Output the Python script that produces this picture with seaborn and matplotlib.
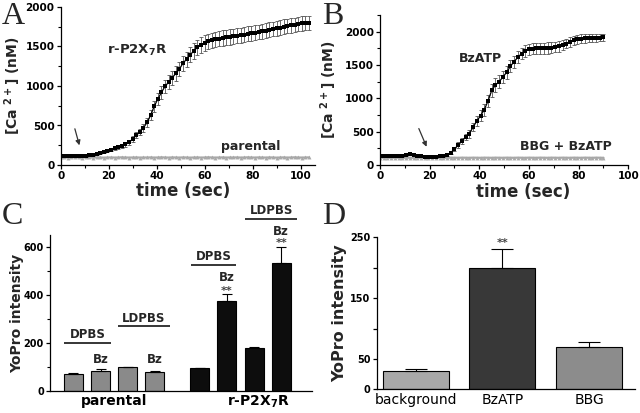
import numpy as np
import pandas as pd
import matplotlib
matplotlib.use("Agg")
import matplotlib.pyplot as plt
import seaborn as sns
from matplotlib.ticker import MultipleLocator

# ---------------- data ----------------
# Panel A: r-P2X7R cells, [Ca2+] (nM) sampled every 1.5 s
dt_A = 1.5
a_ratio = [120, 120, 119, 120, 119, 118, 118, 119, 122, 132,
           145, 158, 170, 183, 196, 210, 225, 242, 262, 285,
           330, 375, 420, 470, 540, 630, 745, 835, 920, 995,
           1050, 1105, 1160, 1215, 1290, 1340, 1395, 1445, 1490, 1520,
           1545, 1565, 1580, 1590, 1600, 1607, 1614, 1620, 1627, 1634,
           1641, 1650, 1660, 1668, 1676, 1684, 1692, 1700, 1710, 1720,
           1730, 1740, 1750, 1760, 1768, 1776, 1784, 1792, 1797, 1800]
a_err = [12, 12, 12, 12, 12, 12, 12, 12, 14, 15,
         17, 18, 20, 22, 24, 25, 27, 28, 30, 32,
         35, 38, 42, 48, 55, 62, 70, 78, 82, 85,
         88, 90, 92, 94, 95, 96, 96, 97, 97, 97,
         97, 97, 97, 97, 97, 96, 96, 96, 96, 95,
         95, 95, 95, 95, 95, 94, 94, 94, 94, 93,
         93, 92, 92, 92, 91, 91, 90, 90, 90, 90]
a_parental = [95, 96, 94, 95, 97, 95, 94, 96, 95, 94,
              96, 95, 93, 95, 96, 94, 95, 97, 95, 94,
              95, 96, 94, 95, 95, 96, 94, 95, 97, 95,
              94, 96, 95, 94, 96, 95, 93, 95, 96, 94,
              95, 97, 95, 94, 95, 96, 94, 95, 95, 96,
              94, 95, 97, 95, 94, 96, 95, 94, 96, 95,
              93, 95, 96, 94, 95, 97, 95, 94, 95, 96]

# Panel B: BzATP vs BBG + BzATP
dt_B = 1.5
b_bz = [130, 128, 130, 128, 130, 128, 132, 145, 160, 150,
        135, 128, 125, 122, 122, 124, 128, 135, 150, 185,
        240, 300, 360, 420, 470, 570, 660, 740, 830, 960,
        1120, 1200, 1250, 1320, 1390, 1480, 1550, 1615, 1670, 1710,
        1735, 1745, 1748, 1750, 1752, 1755, 1760, 1768, 1780, 1800,
        1822, 1845, 1868, 1885, 1895, 1900, 1903, 1906, 1909, 1912, 1915]
b_err = [14, 14, 14, 14, 14, 14, 15, 16, 16, 16,
         15, 14, 14, 14, 14, 14, 15, 16, 18, 22,
         30, 38, 45, 52, 58, 65, 72, 80, 88, 95,
         100, 100, 98, 96, 94, 92, 90, 88, 86, 85,
         84, 84, 84, 84, 84, 83, 82, 80, 78, 76,
         74, 72, 70, 68, 66, 64, 62, 60, 58, 57, 56]
b_bbg = [108, 110, 109, 108, 110, 109, 108, 110, 109, 108,
         110, 109, 108, 110, 109, 108, 110, 109, 108, 110,
         109, 108, 110, 109, 108, 110, 109, 108, 110, 109,
         108, 110, 109, 108, 110, 109, 108, 110, 109, 108,
         110, 109, 108, 110, 109, 108, 110, 109, 108, 110,
         109, 108, 110, 109, 108, 110, 109, 108, 110, 109, 108]

# Panel C: YoPro intensity
c_group = ["parental"] * 4 + ["r-P2X7R"] * 4
c_vals = [71, 85, 98, 81, 95, 377, 179, 532]
c_err = [4, 7, 2, 3, 2, 28, 3, 68]
c_group_labels = ["parental", r"r-P2X$_7$R"]

# Panel D
d_labels = ["background", "BzATP", "BBG"]
d_vals = [30, 199, 70]
d_err = [3, 31, 8]

# ---------------- style ----------------
sns.set_theme(style="ticks")
plt.rcParams.update({
    "font.family": ["DejaVu Sans"],
    "font.weight": "bold",
    "axes.labelweight": "bold",
    "mathtext.fontset": "custom",
    "mathtext.rm": "DejaVu Sans:bold",
    "mathtext.it": "DejaVu Sans:bold",
    "mathtext.bf": "DejaVu Sans:bold",
    "mathtext.default": "rm",
    "axes.linewidth": 0.9,
    "axes.edgecolor": "black",
    "xtick.color": "black",
    "ytick.color": "black",
    "xtick.major.size": 3.0,
    "ytick.major.size": 3.0,
    "xtick.minor.size": 2.0,
    "ytick.minor.size": 2.0,
    "xtick.major.width": 0.9,
    "ytick.major.width": 0.9,
    "xtick.minor.width": 0.8,
    "ytick.minor.width": 0.8,
})

fig = plt.figure(figsize=(6.4, 4.13), dpi=100)
W, H = 640.0, 413.0
axA = fig.add_axes([60.7 / W, 1 - 165 / H, (315 - 60.7) / W, 158 / H])
axB = fig.add_axes([380 / W, 1 - 165 / H, 248.3 / W, 150 / H])
axC = fig.add_axes([50 / W, 1 - 391 / H, 261.7 / W, 156 / H])
axD = fig.add_axes([376.7 / W, 1 - 389.3 / H, 258.3 / W, 152 / H])


def draw_trace(ax, dt, mean, err, ctl):
    t = np.arange(len(mean)) * dt
    tc = np.arange(len(ctl)) * dt
    sns.lineplot(x=tc, y=ctl, ax=ax, color="#a8a8a8", marker="^",
                 markersize=2.8, markeredgewidth=0, linewidth=1.6, zorder=2)
    ax.errorbar(t, mean, yerr=err, fmt="none", ecolor="#555555",
                elinewidth=0.6, capsize=1.4, capthick=0.6, zorder=3)
    sns.lineplot(x=t, y=mean, ax=ax, color="black", marker="s",
                 markersize=2.8, markeredgewidth=0, linewidth=0.9, zorder=4)


def style_trace_axis(ax, xmax, ymax):
    sns.despine(ax=ax)
    ax.set_xlim(0, xmax)
    ax.set_ylim(0, ymax)
    ax.xaxis.set_major_locator(MultipleLocator(20))
    ax.xaxis.set_minor_locator(MultipleLocator(10))
    ax.yaxis.set_major_locator(MultipleLocator(500))
    ax.yaxis.set_minor_locator(MultipleLocator(250))
    ax.tick_params(which="both", direction="out", labelsize=7.5, pad=1.5,
                   bottom=True, left=True)
    ax.set_xlabel("time (sec)", fontsize=12, fontweight="bold")
    ax.set_ylabel(r"[Ca $^{2+}$] (nM)", fontsize=10, fontweight="bold")
    for lab in ax.get_xticklabels() + ax.get_yticklabels():
        lab.set_fontweight("bold")


# Panel A
draw_trace(axA, dt_A, a_ratio, a_err, a_parental)
style_trace_axis(axA, 106, 2000)
axA.xaxis.set_label_coords(0.48, -0.11)
axA.yaxis.set_label_coords(-0.15, 0.5)
axA.text(32, 1450, r"r-P2X$_7$R", fontsize=9.5, fontweight="bold",
         ha="center", va="center")
axA.text(79, 230, "parental", fontsize=9, fontweight="bold",
         ha="center", va="center")
axA.annotate("", xy=(8.1, 215), xytext=(5.6, 492),
             arrowprops=dict(arrowstyle="-|>", color="#333333", lw=0.9,
                             mutation_scale=7))

# Panel B
draw_trace(axB, dt_B, b_bz, b_err, b_bbg)
style_trace_axis(axB, 100, 2250)
axB.xaxis.set_label_coords(0.575, -0.12)
axB.yaxis.set_label_coords(-0.165, 0.5)
axB.text(40.5, 1600, "BzATP", fontsize=9, fontweight="bold",
         ha="center", va="center")
axB.text(75, 275, "BBG + BzATP", fontsize=9, fontweight="bold",
         ha="center", va="center")
axB.annotate("", xy=(19.2, 235), xytext=(15.2, 585),
             arrowprops=dict(arrowstyle="-|>", color="#333333", lw=0.9,
                             mutation_scale=7))

# Panel C
gap = 0.65
c_pos = np.concatenate([np.arange(4), np.arange(4) + 4 + gap])
dfc = pd.DataFrame({"pos": c_pos, "val": c_vals, "grp": c_group})
sns.barplot(data=dfc, x="pos", y="val", hue="grp", native_scale=True,
            dodge=False, width=0.7, errorbar=None, legend=False,
            palette={"parental": "#8a8a8a", "r-P2X7R": "#0d0d0d"},
            edgecolor="black", linewidth=0.8, ax=axC)
axC.errorbar(c_pos, c_vals, yerr=[np.zeros(len(c_vals)), c_err], fmt="none",
             ecolor="black", elinewidth=0.8, capsize=3.5, capthick=0.8,
             zorder=5)
sns.despine(ax=axC)
axC.set_xlim(-0.865, 8.77)
axC.set_ylim(0, 650)
axC.yaxis.set_major_locator(MultipleLocator(200))
axC.yaxis.set_minor_locator(MultipleLocator(100))
axC.set_xticks([1.5, 6.8])
axC.set_xticklabels(c_group_labels, fontsize=10, fontweight="bold")
axC.tick_params(axis="x", length=0, pad=2)
axC.tick_params(axis="y", which="both", direction="out", labelsize=7, pad=1.5,
                left=True)
for lab in axC.get_yticklabels():
    lab.set_fontweight("bold")
axC.set_xlabel("")
axC.set_ylabel("YoPro intensity", fontsize=10, fontweight="bold")
axC.yaxis.set_label_coords(-0.1, 0.5)

ann_fs = 8.5
def bracket(ax, x0, x1, y, label, ty):
    ax.plot([x0, x1], [y, y], color="black", lw=1.1, clip_on=False,
            solid_capstyle="butt")
    ax.text((x0 + x1) / 2, ty, label, fontsize=ann_fs, fontweight="bold",
            ha="center", va="center", clip_on=False)

bracket(axC, -0.35, 1.37, 200, "DPBS", 234)
bracket(axC, 1.63, 3.55, 272, "LDPBS", 304)
bracket(axC, 4.33, 6.0, 524, "DPBS", 560)
bracket(axC, 6.31, 8.24, 716, "LDPBS", 750)
for x, y in [(c_pos[1], 133), (c_pos[3], 133), (c_pos[5], 472), (c_pos[7], 664)]:
    axC.text(x, y, "Bz", fontsize=ann_fs, fontweight="bold", ha="center",
             va="center", clip_on=False)
for x, y in [(c_pos[5], 416), (c_pos[7], 617)]:
    axC.text(x, y, "**", fontsize=8, fontweight="bold", color="#444444",
             ha="center", va="center", clip_on=False)

# Panel D
sns.barplot(x=d_labels, y=d_vals, hue=d_labels,
            palette=["#a8a8a8", "#383838", "#8c8c8c"], legend=False,
            width=0.76, errorbar=None, edgecolor="black", linewidth=0.8,
            ax=axD)
axD.errorbar(np.arange(len(d_vals)), d_vals,
             yerr=[np.zeros(len(d_vals)), d_err], fmt="none", ecolor="black",
             elinewidth=0.8, capsize=8, capthick=0.8, zorder=5)
sns.despine(ax=axD)
axD.set_xlim(-0.45, 2.53)
axD.set_ylim(0, 250)
axD.set_yticks([0, 50, 100, 150, 200, 250])
axD.set_yticklabels(["0", "50", "", "150", "", "250"])
axD.tick_params(axis="y", direction="out", labelsize=7, pad=1.5, left=True)
for lab in axD.get_yticklabels():
    lab.set_fontweight("bold")
axD.tick_params(axis="x", length=0, pad=3)
for lab in axD.get_xticklabels():
    lab.set_fontsize(10)
    lab.set_fontweight("normal")
axD.set_ylabel("YoPro intensity", fontsize=11.5, fontweight="bold")
axD.yaxis.set_label_coords(-0.116, 0.5)
axD.text(1, 240, "**", fontsize=8, fontweight="bold", color="#444444",
         ha="center", va="center")

# Panel letters
for x, y, s in [(2, 2, "A"), (322, 2, "B"), (2, 202, "C"), (322, 202, "D")]:
    fig.text(x / W, 1 - y / H, s, fontsize=23, family="Liberation Serif",
             fontweight="normal", ha="left", va="top")

fig.savefig("out.png", dpi=100)
